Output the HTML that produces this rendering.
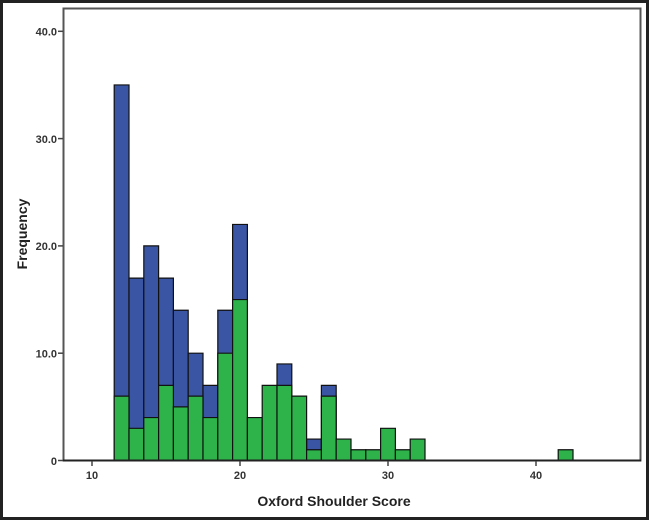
<!DOCTYPE html>
<html><head><meta charset="utf-8"><style>
html,body{margin:0;padding:0;background:#fff;}
svg{display:block;}
text{font-family:"Liberation Sans",Arial,sans-serif;font-weight:bold;}
</style></head><body>
<svg width="649" height="520" viewBox="0 0 649 520" xmlns="http://www.w3.org/2000/svg">
<rect x="1.5" y="1.5" width="646" height="517" fill="#fff" stroke="#222" stroke-width="3"/>
<rect x="63.5" y="8.5" width="577" height="452" fill="#fff" stroke="#555" stroke-width="2"/>
<g transform="translate(92,460.5) scale(14.8,-10.73)" stroke="#111" stroke-width="1.2">
<g fill="#3a55a4">
<rect x="1.5" y="0" width="1" height="35" vector-effect="non-scaling-stroke"/>
<rect x="2.5" y="0" width="1" height="17" vector-effect="non-scaling-stroke"/>
<rect x="3.5" y="0" width="1" height="20" vector-effect="non-scaling-stroke"/>
<rect x="4.5" y="0" width="1" height="17" vector-effect="non-scaling-stroke"/>
<rect x="5.5" y="0" width="1" height="14" vector-effect="non-scaling-stroke"/>
<rect x="6.5" y="0" width="1" height="10" vector-effect="non-scaling-stroke"/>
<rect x="7.5" y="0" width="1" height="7" vector-effect="non-scaling-stroke"/>
<rect x="8.5" y="0" width="1" height="14" vector-effect="non-scaling-stroke"/>
<rect x="9.5" y="0" width="1" height="22" vector-effect="non-scaling-stroke"/>
<rect x="12.5" y="0" width="1" height="9" vector-effect="non-scaling-stroke"/>
<rect x="14.5" y="0" width="1" height="2" vector-effect="non-scaling-stroke"/>
<rect x="15.5" y="0" width="1" height="7" vector-effect="non-scaling-stroke"/>
</g>
<g fill="#2db34a">
<rect x="1.5" y="0" width="1" height="6" vector-effect="non-scaling-stroke"/>
<rect x="2.5" y="0" width="1" height="3" vector-effect="non-scaling-stroke"/>
<rect x="3.5" y="0" width="1" height="4" vector-effect="non-scaling-stroke"/>
<rect x="4.5" y="0" width="1" height="7" vector-effect="non-scaling-stroke"/>
<rect x="5.5" y="0" width="1" height="5" vector-effect="non-scaling-stroke"/>
<rect x="6.5" y="0" width="1" height="6" vector-effect="non-scaling-stroke"/>
<rect x="7.5" y="0" width="1" height="4" vector-effect="non-scaling-stroke"/>
<rect x="8.5" y="0" width="1" height="10" vector-effect="non-scaling-stroke"/>
<rect x="9.5" y="0" width="1" height="15" vector-effect="non-scaling-stroke"/>
<rect x="10.5" y="0" width="1" height="4" vector-effect="non-scaling-stroke"/>
<rect x="11.5" y="0" width="1" height="7" vector-effect="non-scaling-stroke"/>
<rect x="12.5" y="0" width="1" height="7" vector-effect="non-scaling-stroke"/>
<rect x="13.5" y="0" width="1" height="6" vector-effect="non-scaling-stroke"/>
<rect x="14.5" y="0" width="1" height="1" vector-effect="non-scaling-stroke"/>
<rect x="15.5" y="0" width="1" height="6" vector-effect="non-scaling-stroke"/>
<rect x="16.5" y="0" width="1" height="2" vector-effect="non-scaling-stroke"/>
<rect x="17.5" y="0" width="1" height="1" vector-effect="non-scaling-stroke"/>
<rect x="18.5" y="0" width="1" height="1" vector-effect="non-scaling-stroke"/>
<rect x="19.5" y="0" width="1" height="3" vector-effect="non-scaling-stroke"/>
<rect x="20.5" y="0" width="1" height="1" vector-effect="non-scaling-stroke"/>
<rect x="21.5" y="0" width="1" height="2" vector-effect="non-scaling-stroke"/>
<rect x="31.5" y="0" width="1" height="1" vector-effect="non-scaling-stroke"/>
</g>
</g>
<line x1="63" y1="460.5" x2="641" y2="460.5" stroke="#222" stroke-width="2"/>
<g stroke="#444" stroke-width="1.5">
<line x1="58" y1="460.5" x2="63" y2="460.5"/>
<line x1="58" y1="353.2" x2="63" y2="353.2"/>
<line x1="58" y1="245.9" x2="63" y2="245.9"/>
<line x1="58" y1="138.6" x2="63" y2="138.6"/>
<line x1="58" y1="31.3" x2="63" y2="31.3"/>
<line x1="92" y1="461" x2="92" y2="466"/>
<line x1="240" y1="461" x2="240" y2="466"/>
<line x1="388" y1="461" x2="388" y2="466"/>
<line x1="536" y1="461" x2="536" y2="466"/>
</g>
<g font-size="11" fill="#333" text-anchor="end">
<text x="57" y="465">0</text>
<text x="57" y="357.5">10.0</text>
<text x="57" y="250">20.0</text>
<text x="57" y="143">30.0</text>
<text x="57" y="35.5">40.0</text>
</g>
<g font-size="11" fill="#333" text-anchor="middle">
<text x="92" y="479">10</text>
<text x="240" y="479">20</text>
<text x="388" y="479">30</text>
<text x="536" y="479">40</text>
</g>
<text x="334" y="506" font-size="14" fill="#222" text-anchor="middle">Oxford Shoulder Score</text>
<text transform="translate(27,234) rotate(-90)" font-size="14" fill="#222" text-anchor="middle">Frequency</text>
</svg>
</body></html>
